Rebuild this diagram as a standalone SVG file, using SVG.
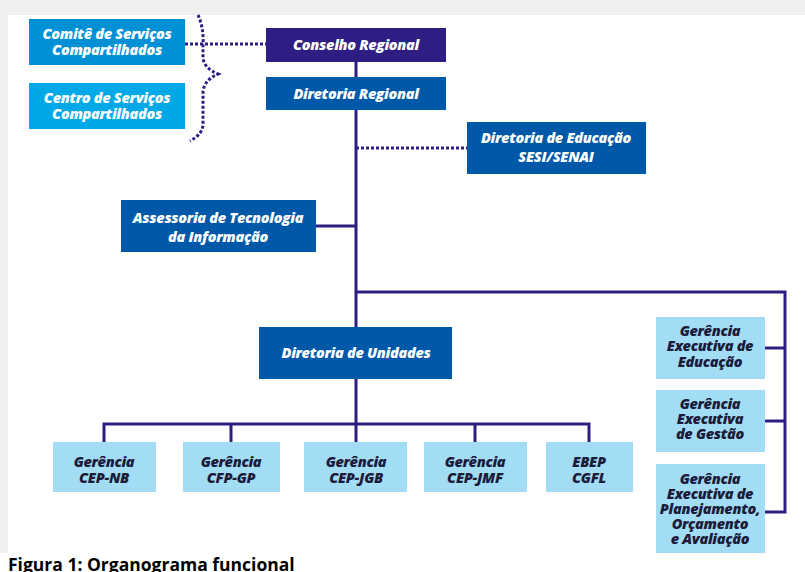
<svg xmlns="http://www.w3.org/2000/svg" width="805" height="572" viewBox="0 0 805 572">
<style>
.t{font-family:"Open Sans","Noto Sans",sans-serif;font-weight:800;font-style:italic;font-size:14.5px;text-anchor:middle;letter-spacing:-0.3px}
.w{fill:#ffffff}
.k{fill:#1b1b3a}
.ln{stroke:#2e1d82;stroke-width:3;fill:none}
.dt{stroke:#2e1d82;stroke-width:3;fill:none;stroke-dasharray:3 2}
.lb{fill:#a3dcf5}
.db{fill:#0058a8}
</style>
<rect x="0" y="0" width="805" height="572" fill="#efefef"/>
<rect x="8" y="15" width="797" height="557" fill="#ffffff"/>
<rect x="0" y="553" width="805" height="19" fill="#ffffff"/>
<g id="connectors">
<path class="dt" d="M185 44 H266"/>
<path class="dt" d="M356 148 H467"/>
<path class="dt" d="M198 15 Q204 28 203 45 V58 Q204 68 218 74 Q204 80 203 92 V124 Q203 134 190 141"/>
<path class="ln" d="M356 62 V442"/>
<path class="ln" d="M316 226 H356"/>
<path class="ln" d="M356 292 H785 V512 H765"/>
<path class="ln" d="M765 348 H785"/>
<path class="ln" d="M765 421 H785"/>
<path class="ln" d="M104 442 V424 H589 V442"/>
<path class="ln" d="M231 424 V442"/>
<path class="ln" d="M475 424 V442"/>
</g>
<g id="comite"><rect x="29" y="19" width="156" height="46" fill="#0090d6"/><text class="t w" x="107" y="39">Comitê de Serviços</text><text class="t w" x="107" y="55">Compartilhados</text></g>
<g id="centro"><rect x="29" y="83" width="156" height="46" fill="#00a8e8"/><text class="t w" x="107" y="103">Centro de Serviços</text><text class="t w" x="107" y="119">Compartilhados</text></g>
<g id="conselho"><rect x="266" y="28" width="180" height="34" fill="#2e1d82"/><text class="t w" x="356" y="50">Conselho Regional</text></g>
<g id="diretoria-regional"><rect class="db" x="266" y="77" width="180" height="33"/><text class="t w" x="356" y="99">Diretoria Regional</text></g>
<g id="diretoria-educacao"><rect class="db" x="467" y="122" width="179" height="52"/><text class="t w" x="556" y="143">Diretoria de Educação</text><text class="t w" x="556" y="162">SESI/SENAI</text></g>
<g id="assessoria"><rect class="db" x="121" y="200" width="195" height="52"/><text class="t w" x="218" y="223">Assessoria de Tecnologia</text><text class="t w" x="218" y="242">da Informação</text></g>
<g id="diretoria-unidades"><rect class="db" x="259" y="327" width="193" height="52"/><text class="t w" x="356" y="358">Diretoria de Unidades</text></g>
<g id="cep-nb"><rect class="lb" x="53" y="442" width="103" height="50"/><text class="t k" x="104" y="467">Gerência</text><text class="t k" x="104" y="483">CEP-NB</text></g>
<g id="cfp-gp"><rect class="lb" x="183" y="442" width="97" height="50"/><text class="t k" x="231" y="467">Gerência</text><text class="t k" x="231" y="483">CFP-GP</text></g>
<g id="cep-jgb"><rect class="lb" x="304" y="442" width="103" height="50"/><text class="t k" x="356" y="467">Gerência</text><text class="t k" x="356" y="483">CEP-JGB</text></g>
<g id="cep-jmf"><rect class="lb" x="424" y="442" width="103" height="50"/><text class="t k" x="475" y="467">Gerência</text><text class="t k" x="475" y="483">CEP-JMF</text></g>
<g id="ebep"><rect class="lb" x="546" y="442" width="87" height="50"/><text class="t k" x="589" y="467">EBEP</text><text class="t k" x="589" y="483">CGFL</text></g>
<g id="ge-educacao"><rect class="lb" x="656" y="317" width="109" height="62"/><text class="t k" x="710" y="336">Gerência</text><text class="t k" x="710" y="351">Executiva de</text><text class="t k" x="710" y="367">Educação</text></g>
<g id="ge-gestao"><rect class="lb" x="656" y="390" width="109" height="62"/><text class="t k" x="710" y="409">Gerência</text><text class="t k" x="710" y="424">Executiva</text><text class="t k" x="710" y="439">de Gestão</text></g>
<g id="ge-planejamento"><rect class="lb" x="656" y="464" width="109" height="89"/><text class="t k" x="710" y="484">Gerência</text><text class="t k" x="710" y="499">Executiva de</text><text class="t k" x="710" y="514">Planejamento,</text><text class="t k" x="710" y="529">Orçamento</text><text class="t k" x="710" y="544">e Avaliação</text></g>
<text x="8" y="571" font-family="'Open Sans','Liberation Sans',sans-serif" font-weight="bold" font-size="17.5" fill="#000000">Figura 1: Organograma funcional</text>
</svg>
